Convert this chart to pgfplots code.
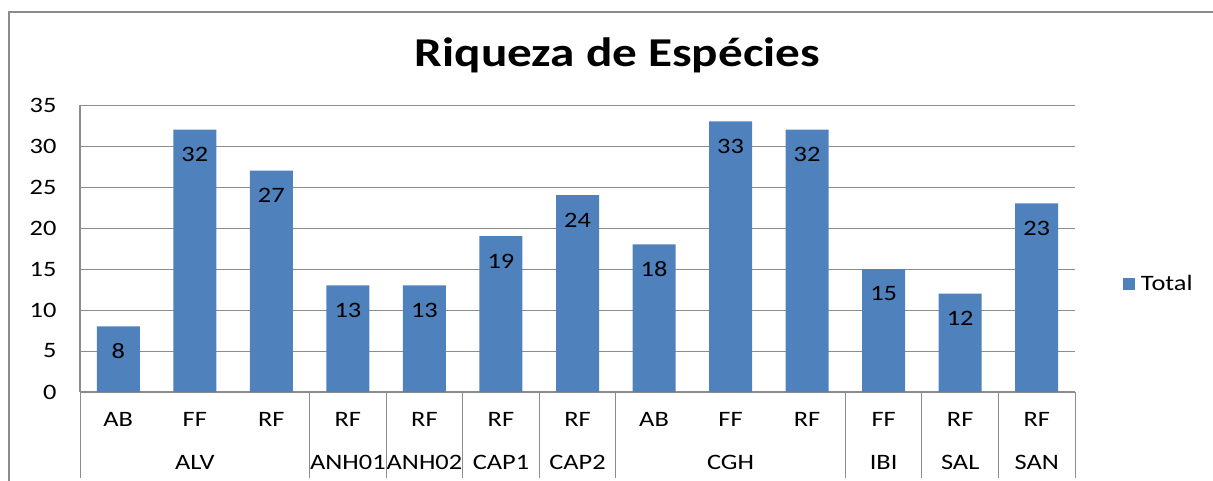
\documentclass[border=0pt]{standalone}
\usepackage{fontspec}
\setmainfont{Carlito}[FakeStretch=1.2]
\usepackage{pgfplots}
\pgfplotsset{compat=1.18}
\definecolor{barblue}{HTML}{4F81BD}
\definecolor{gridgray}{HTML}{8C8C8C}
\begin{document}
\begin{tikzpicture}[x=1pt,y=1pt]
\useasboundingbox (0,0) rectangle (1213,-481);
\draw[gridgray, line width=2pt] (9,-481) -- (9,-12) -- (1213,-12);
\node[font=\fontsize{41}{48}\selectfont\bfseries] at (617.5,-55) {Riqueza de Espécies};
\begin{axis}[
  at={(80pt,-392pt)}, anchor=south west,
  scale only axis, width=995pt, height=287pt,
  ybar, bar width=43pt,
  xmin=-0.5, xmax=12.5, ymin=0, ymax=35,
  ytick={0,5,...,35},
  xtick={0,1,...,12},
  xticklabels={AB\\\phantom{A},FF\\ALV,RF\\\phantom{A},RF\\ANH01,RF\\ANH02,RF\\CAP1,RF\\CAP2,AB\\\phantom{A},FF\\CGH,RF\\\phantom{A},FF\\IBI,RF\\SAL,RF\\SAN},
  ymajorgrids, grid style={gridgray, line width=1pt},
  axis x line*=bottom, axis y line*=left,
  axis line style={gridgray, line width=1.2pt},
  major tick length=0pt,
  tick align=outside,
  extra x ticks={-0.5,2.5,3.5,4.5,5.5,6.5,9.5,10.5,11.5,12.5},
  extra x tick labels={},
  extra x tick style={major tick length=86pt, grid=none, tick style={gridgray, line width=1pt}},
  /pgf/number format/assume math mode=true,
  ticklabel style={font=\fontsize{22}{43}\selectfont, text=black},
  xticklabel style={align=center, anchor=north, yshift=-17pt},
  yticklabel style={anchor=east, xshift=-20pt},
  nodes near coords,
  every node near coord/.append style={anchor=north, yshift=-14pt, font=\fontsize{22}{26}\selectfont, text=black},
  legend style={draw=none, fill=none, at={(1.045,0.376)}, anchor=west, font=\fontsize{22}{26}\selectfont},
  legend image code/.code={\fill[barblue] (0pt,-6pt) rectangle (12pt,6pt); \path (16pt,0pt);},
]
\addplot[fill=barblue, draw=none] coordinates {
(0,8) (1,32) (2,27) (3,13) (4,13) (5,19) (6,24) (7,18) (8,33) (9,32) (10,15) (11,12) (12,23)};
\addlegendentry{Total}
\end{axis}
\end{tikzpicture}
\end{document}
